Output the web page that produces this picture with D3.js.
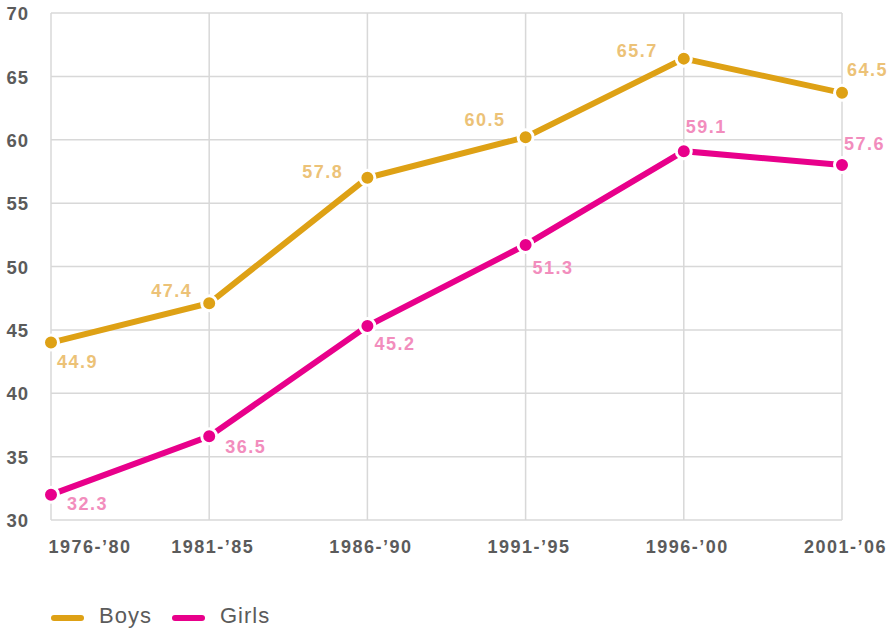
<!DOCTYPE html>
<html>
<head>
<meta charset="utf-8">
<script src="https://cdn.jsdelivr.net/npm/d3@7"></script>
<style>
  html, body { margin: 0; padding: 0; background: #fff; }
  svg { display: block; font-family: "Liberation Sans", Arial, Helvetica, sans-serif; }
</style>
</head>
<body>
<svg id="chart" width="892" height="632"></svg>
<script>
// ---- data ----
const categories = ["1976-\u201980", "1981-\u201985", "1986-\u201990", "1991-\u201995", "1996-\u201900", "2001-\u201906"];
const boysValues = [44.0, 47.1, 57.0, 60.2, 66.4, 63.7];
const girlsValues = [32.0, 36.6, 45.3, 51.7, 59.1, 58.0];
const boysLabels = ["44.9", "47.4", "57.8", "60.5", "65.7", "64.5"];
const girlsLabels = ["32.3", "36.5", "45.2", "51.3", "59.1", "57.6"];
const yTicks = [30, 35, 40, 45, 50, 55, 60, 65, 70];
const seriesNames = ["Boys", "Girls"];

// ---- layout / style ----
const colors = { Boys: "#dea115", Girls: "#e8008b" };
const labelColors = { Boys: "#ecc277", Girls: "#f28dbd" };
const plotLeft = 51, plotRight = 842, plotTop = 13, plotBottom = 520;
// label placement offsets (dx, dy, anchor) relative to the point
const boysLabelPos = [[6, 25, "start"], [-17, -6, "end"], [-24, 0, "end"], [-20, -11, "end"], [-26, -2, "end"], [5, -17, "start"]];
const girlsLabelPos = [[16, 15, "start"], [16, 17, "start"], [7, 24, "start"], [7, 29, "start"], [2, -18, "start"], [2, -15, "start"]];

const svg = d3.select("#chart");
const x = d3.scalePoint().domain(categories).range([plotLeft, plotRight]);
const y = d3.scaleLinear().domain([30, 70]).range([plotBottom, plotTop]);

// grid
const grid = svg.append("g");
grid.selectAll("line.h").data(yTicks).join("line")
  .attr("class", "h")
  .attr("x1", plotLeft).attr("x2", plotRight)
  .attr("y1", d => y(d)).attr("y2", d => y(d))
  .attr("stroke", "#d8d8d8").attr("stroke-width", 1.5);
grid.selectAll("line.v").data(categories).join("line")
  .attr("class", "v")
  .attr("x1", d => x(d)).attr("x2", d => x(d))
  .attr("y1", plotTop).attr("y2", plotBottom)
  .attr("stroke", "#d8d8d8").attr("stroke-width", 1.5);

// y axis labels
const yAxis = d3.axisLeft(y).tickValues(yTicks).tickSize(0).tickPadding(0);
const yg = svg.append("g").attr("transform", `translate(29,0)`).call(yAxis);
yg.select(".domain").remove();
yg.selectAll("text")
  .attr("font-family", "Liberation Sans, Arial, sans-serif")
  .attr("font-size", 18.5).attr("font-weight", "bold")
  .attr("fill", "#5b5b5b").attr("letter-spacing", "1px")
  .attr("text-anchor", "end").attr("dy", "0.36em");

// x axis labels
const xAxis = d3.axisBottom(x).tickSize(0).tickPadding(0);
const xg = svg.append("g").attr("transform", `translate(0,${plotBottom})`).call(xAxis);
xg.select(".domain").remove();
xg.selectAll("text")
  .attr("font-family", "Liberation Sans, Arial, sans-serif")
  .attr("font-size", 18).attr("font-weight", "bold")
  .attr("fill", "#5b5b5b").attr("letter-spacing", "1.5px")
  .attr("y", 33).attr("dy", 0)
  .attr("dx", (d, i) => i === 0 ? -3 : 3)
  .attr("text-anchor", (d, i) => i === 0 ? "start" : "middle");

// lines
const series = [
  { name: "Boys", values: boysValues, labels: boysLabels, pos: boysLabelPos },
  { name: "Girls", values: girlsValues, labels: girlsLabels, pos: girlsLabelPos }
];
const line = d3.line().x((d, i) => x(categories[i])).y(d => y(d));

series.forEach(s => {
  svg.append("path").datum(s.values)
    .attr("d", line).attr("fill", "none")
    .attr("stroke", colors[s.name]).attr("stroke-width", 6);
});
series.forEach(s => {
  svg.append("g").selectAll("circle").data(s.values).join("circle")
    .attr("cx", (d, i) => x(categories[i])).attr("cy", d => y(d))
    .attr("r", 7.5).attr("fill", colors[s.name])
    .attr("stroke", "#fff").attr("stroke-width", 3);
});
series.forEach(s => {
  svg.append("g").selectAll("text").data(s.values).join("text")
    .attr("x", (d, i) => x(categories[i]) + s.pos[i][0])
    .attr("y", (d, i) => y(d) + s.pos[i][1])
    .attr("text-anchor", (d, i) => s.pos[i][2])
    .attr("font-size", 18).attr("font-weight", "bold")
    .attr("letter-spacing", "1.5px")
    .attr("fill", labelColors[s.name])
    .text((d, i) => s.labels[i]);
});

// legend
const legendX = [52, 173];
const lg = svg.append("g").selectAll("g").data(seriesNames).join("g")
  .attr("transform", (d, i) => `translate(${legendX[i]},618)`);
lg.append("line").attr("x1", 2).attr("x2", 29).attr("y1", 0).attr("y2", 0)
  .attr("stroke", d => colors[d]).attr("stroke-width", 6).attr("stroke-linecap", "round");
lg.append("text").attr("x", 47).attr("y", 5)
  .attr("font-size", 22).attr("fill", "#5b5b5b").attr("letter-spacing", "1px")
  .text(d => d);
</script>
</body>
</html>
